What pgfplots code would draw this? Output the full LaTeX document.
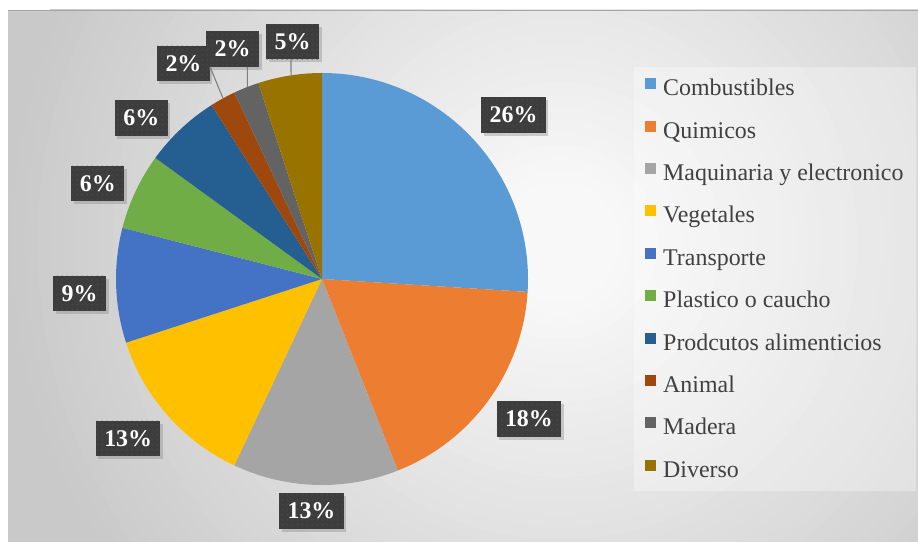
\documentclass[border=0pt]{standalone}
\usepackage{fontspec}
\setmainfont{Liberation Serif}
\usepackage{pgfplots}
\pgfplotsset{compat=1.18}
\usepgfplotslibrary{polar}
\usetikzlibrary{shadows,patterns}
\definecolor{c1}{HTML}{5B9BD5}
\definecolor{c2}{HTML}{ED7D31}
\definecolor{c3}{HTML}{A5A5A5}
\definecolor{c4}{HTML}{FFC000}
\definecolor{c5}{HTML}{4472C4}
\definecolor{c6}{HTML}{70AD47}
\definecolor{c7}{HTML}{255E91}
\definecolor{c8}{HTML}{9E480E}
\definecolor{c9}{HTML}{636363}
\definecolor{c10}{HTML}{997300}
\definecolor{bgin}{HTML}{F8F8F8}
\definecolor{bgout}{HTML}{C9C9C9}
\definecolor{lbfill}{HTML}{3D3D3D}
\definecolor{lbdot}{HTML}{525252}
\definecolor{legtext}{HTML}{404040}
\definecolor{leader}{HTML}{808080}
\pgfdeclarepatternformonly{sparsedots}{\pgfpointorigin}{\pgfpoint{5bp}{5bp}}{\pgfpoint{5bp}{5bp}}{\pgfpathcircle{\pgfpoint{2.5bp}{2.5bp}}{0.8bp}\pgfusepath{fill}}
\tikzset{lbl/.style={fill=lbfill, text=white, font=\fontsize{24}{26}\selectfont\bfseries,
  minimum width=#1, minimum height=35.5bp, inner sep=0pt,
  drop shadow={shadow xshift=2.5bp, shadow yshift=-3bp, opacity=0.35},
  postaction={pattern=sparsedots, pattern color=lbdot}}}
\begin{document}
\begin{tikzpicture}[x=1bp,y=1bp]
\useasboundingbox (0,0) rectangle (918,542);
\fill[white] (0,0) rectangle (918,542);
\begin{scope}
\clip (8,0) rectangle (918,532);
\fill[bgout] (8,0) rectangle (918,532);
\foreach \i in {0,...,40}{
  \pgfmathsetmacro{\rr}{560-12.5*\i}
  \pgfmathsetmacro{\pp}{100*\i/40}
  \fill[bgin!\pp!bgout] (560,300) circle[radius=\rr];
}
\end{scope}
\draw[color=gray!70, line width=0.8bp] (8,532) -- (918,532);
\fill[white, opacity=0.32] (634,51) rectangle (916,475);
\begin{polaraxis}[
  at={(322bp,263bp)}, anchor=center,
  width=412bp, height=412bp, scale only axis,
  xmin=0, xmax=360, ymin=0, ymax=1,
  hide axis, clip=false,
  legend cell align=left,
  legend image code/.code={\fill[#1] (0bp,1bp) rectangle (11bp,12bp);},
  legend style={at={(1.284,0.497)}, anchor=west, draw=none, fill=none,
    inner sep=0pt, row sep=19.85bp, column sep=7bp,
    font=\fontsize{24}{28}\selectfont,
    nodes={inner sep=0pt, text height=16bp, text depth=5bp, text=legtext}},
]
% slices: percentages 26, 18, 13, 13, 9, 6, 6, 2, 2, 5 (clockwise from 90 deg)
\addplot[fill=c1, draw=none, domain=-3.6:90, samples=80] {1} -- (axis cs:0,0) -- cycle;
\addlegendentry{Combustibles}
\addplot[fill=c2, draw=none, domain=-68.4:-3.6, samples=60] {1} -- (axis cs:0,0) -- cycle;
\addlegendentry{Quimicos}
\addplot[fill=c3, draw=none, domain=-115.2:-68.4, samples=45] {1} -- (axis cs:0,0) -- cycle;
\addlegendentry{Maquinaria y electronico}
\addplot[fill=c4, draw=none, domain=-162:-115.2, samples=45] {1} -- (axis cs:0,0) -- cycle;
\addlegendentry{Vegetales}
\addplot[fill=c5, draw=none, domain=-194.4:-162, samples=30] {1} -- (axis cs:0,0) -- cycle;
\addlegendentry{Transporte}
\addplot[fill=c6, draw=none, domain=-216:-194.4, samples=22] {1} -- (axis cs:0,0) -- cycle;
\addlegendentry{Plastico o caucho}
\addplot[fill=c7, draw=none, domain=-237.6:-216, samples=22] {1} -- (axis cs:0,0) -- cycle;
\addlegendentry{Prodcutos alimenticios}
\addplot[fill=c8, draw=none, domain=-244.8:-237.6, samples=8] {1} -- (axis cs:0,0) -- cycle;
\addlegendentry{Animal}
\addplot[fill=c9, draw=none, domain=-252:-244.8, samples=8] {1} -- (axis cs:0,0) -- cycle;
\addlegendentry{Madera}
\addplot[fill=c10, draw=none, domain=-270:-252, samples=18] {1} -- (axis cs:0,0) -- cycle;
\addlegendentry{Diverso}
% leader lines
\addplot[leader, line width=1.1bp, forget plot] coordinates {(117.85,1.157) (118.71,1.003)};
\addplot[leader, line width=1.1bp, forget plot] coordinates {(109.38,1.093) (111.22,1.001)};
\addplot[leader, line width=1.1bp, forget plot] coordinates {(98.03,1.077) (98.64,1.0)};
% data labels
\node[lbl=64.5bp] at (axis cs:40.57,1.224) {26\%};
\node[lbl=64.5bp] at (axis cs:325.9,1.213) {18\%};
\node[lbl=64.5bp] at (axis cs:267.4,1.128) {13\%};
\node[lbl=64.5bp] at (axis cs:219.47,1.219) {13\%};
\node[lbl=53bp] at (axis cs:183.4,1.179) {9\%};
\node[lbl=53bp] at (axis cs:156.9,1.183) {6\%};
\node[lbl=53bp] at (axis cs:138.26,1.175) {6\%};
\node[lbl=53bp] at (axis cs:122.73,1.244) {2\%};
\node[lbl=53bp] at (axis cs:111.26,1.198) {2\%};
\node[lbl=53bp] at (axis cs:97.08,1.162) {5\%};
\end{polaraxis}
\end{tikzpicture}
\end{document}
